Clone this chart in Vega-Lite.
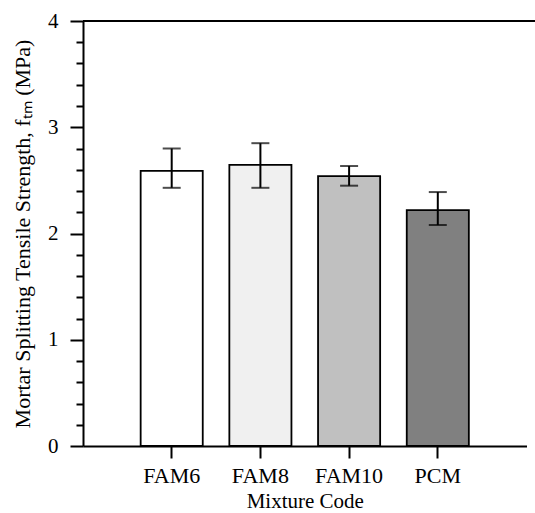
{
  "$schema": "https://vega.github.io/schema/vega-lite/v6.json",
  "width": 452,
  "height": 425,
  "autosize": "none",
  "padding": {"left": 83, "top": 21, "right": 0, "bottom": 67},
  "background": "white",
  "config": {
    "view": {"stroke": null},
    "font": "Liberation Serif",
    "axis": {"labelColor": "black", "titleColor": "black", "titleFontWeight": "normal", "grid": false, "domainColor": "black", "domainWidth": 2, "tickColor": "black", "tickWidth": 2, "labelOverlap": false},
    "axisX": {"labelAngle": 0, "labelFontSize": 22, "labelPadding": 7, "tickSize": 12, "titleFontSize": 21, "titlePadding": 4},
    "axisY": {"labelFontSize": 21, "labelPadding": 12, "titleFontSize": 22, "titlePadding": 13, "labelBound": false, "labelFlush": false}
  },
  "data": {
    "values": [
      {"code": "FAM6", "mean": 2.59, "lo": 2.43, "hi": 2.80},
      {"code": "FAM8", "mean": 2.645, "lo": 2.43, "hi": 2.85},
      {"code": "FAM10", "mean": 2.54, "lo": 2.45, "hi": 2.635},
      {"code": "PCM", "mean": 2.22, "lo": 2.08, "hi": 2.39}
    ]
  },
  "layer": [
    {
      "mark": {"type": "bar", "stroke": "black", "strokeWidth": 1.8},
      "encoding": {
        "x": {
          "field": "code",
          "type": "nominal",
          "sort": ["FAM6", "FAM8", "FAM10", "PCM"],
          "scale": {"range": [0, 443.5], "paddingInner": 0.3, "paddingOuter": 0.65},
          "title": "Mixture Code"
        },
        "y": {
          "field": "mean",
          "type": "quantitative",
          "scale": {"domain": [0, 4], "nice": false},
          "title": "Mortar Splitting Tensile Strength, fₜₘ (MPa)",
          "axis": {
            "values": [0, 0.2, 0.4, 0.6, 0.8, 1, 1.2, 1.4, 1.6, 1.8, 2, 2.2, 2.4, 2.6, 2.8, 3, 3.2, 3.4, 3.6, 3.8, 4],
            "labelExpr": "abs(datum.value - round(datum.value)) < 0.001 ? format(datum.value, 'd') : ''",
            "tickSize": {"condition": {"test": "abs(datum.value - round(datum.value)) < 0.001", "value": 13}, "value": 7}
          }
        },
        "fill": {
          "field": "code",
          "type": "nominal",
          "scale": {"domain": ["FAM6", "FAM8", "FAM10", "PCM"], "range": ["#ffffff", "#f0f0f0", "#c0c0c0", "#808080"]},
          "legend": null
        }
      }
    },
    {
      "mark": {"type": "rule", "strokeWidth": 2, "color": "black"},
      "encoding": {
        "x": {"field": "code", "type": "nominal", "sort": ["FAM6", "FAM8", "FAM10", "PCM"], "title": "Mixture Code"},
        "y": {
          "field": "lo",
          "type": "quantitative",
          "title": "Mortar Splitting Tensile Strength, fₜₘ (MPa)",
          "axis": {
            "values": [0, 0.2, 0.4, 0.6, 0.8, 1, 1.2, 1.4, 1.6, 1.8, 2, 2.2, 2.4, 2.6, 2.8, 3, 3.2, 3.4, 3.6, 3.8, 4],
            "labelExpr": "abs(datum.value - round(datum.value)) < 0.001 ? format(datum.value, 'd') : ''",
            "tickSize": {"condition": {"test": "abs(datum.value - round(datum.value)) < 0.001", "value": 13}, "value": 7}
          }
        },
        "y2": {"field": "hi"}
      }
    },
    {
      "mark": {"type": "tick", "size": 18, "thickness": 2, "color": "black", "orient": "horizontal"},
      "encoding": {
        "x": {"field": "code", "type": "nominal", "sort": ["FAM6", "FAM8", "FAM10", "PCM"], "title": "Mixture Code"},
        "y": {
          "field": "lo",
          "type": "quantitative",
          "title": "Mortar Splitting Tensile Strength, fₜₘ (MPa)",
          "axis": {
            "values": [0, 0.2, 0.4, 0.6, 0.8, 1, 1.2, 1.4, 1.6, 1.8, 2, 2.2, 2.4, 2.6, 2.8, 3, 3.2, 3.4, 3.6, 3.8, 4],
            "labelExpr": "abs(datum.value - round(datum.value)) < 0.001 ? format(datum.value, 'd') : ''",
            "tickSize": {"condition": {"test": "abs(datum.value - round(datum.value)) < 0.001", "value": 13}, "value": 7}
          }
        }
      }
    },
    {
      "mark": {"type": "tick", "size": 18, "thickness": 2, "color": "black", "orient": "horizontal"},
      "encoding": {
        "x": {"field": "code", "type": "nominal", "sort": ["FAM6", "FAM8", "FAM10", "PCM"], "title": "Mixture Code"},
        "y": {
          "field": "hi",
          "type": "quantitative",
          "title": "Mortar Splitting Tensile Strength, fₜₘ (MPa)",
          "axis": {
            "values": [0, 0.2, 0.4, 0.6, 0.8, 1, 1.2, 1.4, 1.6, 1.8, 2, 2.2, 2.4, 2.6, 2.8, 3, 3.2, 3.4, 3.6, 3.8, 4],
            "labelExpr": "abs(datum.value - round(datum.value)) < 0.001 ? format(datum.value, 'd') : ''",
            "tickSize": {"condition": {"test": "abs(datum.value - round(datum.value)) < 0.001", "value": 13}, "value": 7}
          }
        }
      }
    },
    {
      "mark": {"type": "rule", "strokeWidth": 2, "color": "black"},
      "encoding": {
        "y": {
          "datum": 4,
          "type": "quantitative",
          "title": "Mortar Splitting Tensile Strength, fₜₘ (MPa)",
          "axis": {
            "values": [0, 0.2, 0.4, 0.6, 0.8, 1, 1.2, 1.4, 1.6, 1.8, 2, 2.2, 2.4, 2.6, 2.8, 3, 3.2, 3.4, 3.6, 3.8, 4],
            "labelExpr": "abs(datum.value - round(datum.value)) < 0.001 ? format(datum.value, 'd') : ''",
            "tickSize": {"condition": {"test": "abs(datum.value - round(datum.value)) < 0.001", "value": 13}, "value": 7}
          }
        }
      }
    }
  ]
}
